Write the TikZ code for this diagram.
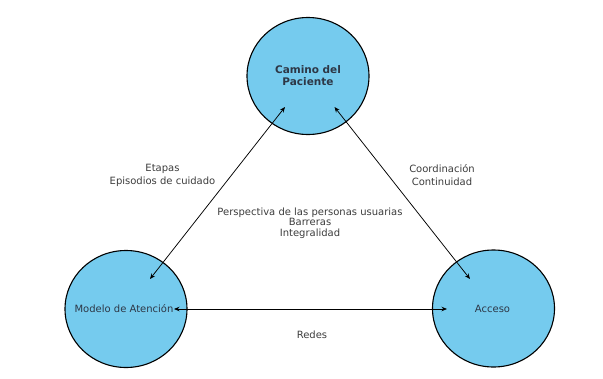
\documentclass[tikz,border=0pt]{standalone}
\usepackage{fontspec}
\setmainfont{DejaVu Sans}
\usetikzlibrary{arrows.meta,shapes.geometric}
\definecolor{circfill}{RGB}{117,203,238}
\definecolor{txt}{RGB}{45,55,70}
\definecolor{lbltxt}{RGB}{60,60,60}
\begin{document}
\begin{tikzpicture}[x=1pt,y=-1pt,
  bubble/.style={ellipse,draw=black,line width=1.1pt,fill=circfill,minimum width=122pt,minimum height=117pt,inner sep=0pt,text=txt,font=\fontsize{10}{11}\selectfont},
  lbl/.style={text=lbltxt,font=\fontsize{10}{13}\selectfont,align=center,inner sep=0pt},
  link/.style={{Stealth[length=5.5pt,width=4.5pt]}-{Stealth[length=5.5pt,width=4.5pt]},line width=0.75pt}]
\useasboundingbox (0,0) rectangle (603,378);
\node[bubble,align=center,font=\fontsize{10.5}{12}\selectfont\bfseries] (top) at (308,76) {Camino del\\Paciente};
\node[bubble] (left) at (126,309) {};
\node[bubble] (right) at (493.5,308.5) {};
\node[lbl,text=txt,font=\fontsize{10}{11}\selectfont] (ltext) at (124,309) {Modelo de Atención};
\node[lbl,text=txt,font=\fontsize{10}{11}\selectfont] (rtext) at (492.5,309) {Acceso};
\coordinate (a1) at (285,107);
\coordinate (a2) at (150,279);
\coordinate (b1) at (334.5,107);
\coordinate (b2) at (470,279);
\coordinate (c1) at (174,309);
\coordinate (c2) at (447,309);
\draw[link] (a2) -- (a1);
\draw[link] (b1) -- (b2);
\draw[link] (c1) -- (c2);
\node[lbl] (l1) at (162.5,175) {Etapas\\Episodios de cuidado};
\node[lbl] (l2) at (442,175) {Coordinación\\Continuidad};
\node[lbl,font=\fontsize{10}{10.5}\selectfont] (l3) at (310,223) {Perspectiva de las personas usuarias\\Barreras\\Integralidad};
\node[lbl] (l4) at (312,335) {Redes};
\end{tikzpicture}
\end{document}
